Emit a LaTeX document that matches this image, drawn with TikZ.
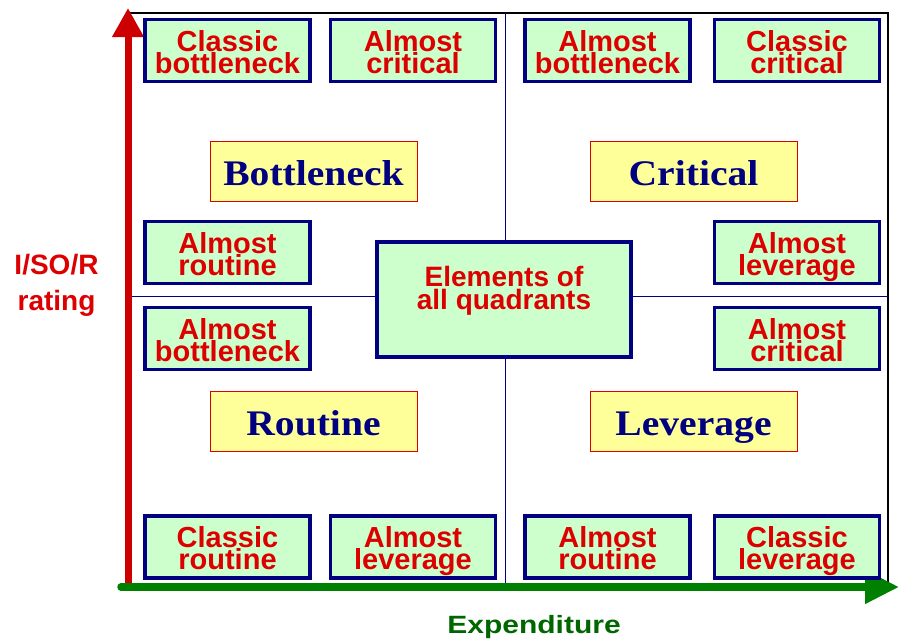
\documentclass[tikz,border=0pt]{standalone}
\usepackage{fontspec}
\setmainfont{Liberation Serif}
\newfontfamily\arialfam{Liberation Sans}
\newfontfamily\serifwide{Liberation Serif}[FakeStretch=1.1]
\newfontfamily\arialwide{Liberation Sans}[FakeStretch=1.2]
\newcommand\celltype{\arialfam\bfseries\fontsize{29}{22}\selectfont\lineskiplimit=-50pt\relax}
\newcommand\centretype{\arialfam\bfseries\fontsize{28}{23}\selectfont\lineskiplimit=-50pt\relax}
\usetikzlibrary{arrows.meta}
\definecolor{boxred}{HTML}{DD0000}
\definecolor{arrowred}{HTML}{CC0000}
\definecolor{boxnavy}{HTML}{000080}
\definecolor{boxgreen}{HTML}{CCFFCC}
\definecolor{boxyellow}{HTML}{FFFF99}
\definecolor{axisgreen}{HTML}{008000}
\definecolor{labelgreen}{HTML}{006600}
\tikzset{
  cellbase/.style={draw=boxnavy, line width=3.5pt, fill=boxgreen, inner sep=0pt,
    minimum width=165pt, minimum height=62pt, align=center, text=boxred},
  cell/.style={cellbase, font=\celltype, text height=51pt, text depth=6pt},
  centrebox/.style={cellbase, font=\centretype,
    execute at begin node={\rule{0pt}{23pt}},
    execute at end node={\rule[-23pt]{0pt}{0pt}}},
  quad/.style={draw=boxred, line width=0.9pt, fill=boxyellow, inner sep=0pt,
    minimum width=207pt, minimum height=60pt, text=boxnavy,
    text height=36pt, text depth=8pt,
    font=\serifwide\bfseries\fontsize{36}{40}\selectfont},
  divider/.style={draw=boxnavy, line width=0.8pt},
}
\begin{document}
\begin{tikzpicture}[x=1pt, y=-1pt]
\useasboundingbox (0,0) rectangle (900,640);

% frame corners and quadrant dividers
\coordinate (tl) at (128,13);
\coordinate (tr) at (888,13);
\coordinate (br) at (888,587);
\coordinate (vtop) at (505,13);
\coordinate (vbot) at (505,587);
\coordinate (hleft) at (128,296);
\coordinate (hright) at (888,296);
\draw[line width=1.4pt] (tl) -- (tr) -- (br);
\draw[divider] (vtop) -- (vbot);
\draw[divider] (hleft) -- (hright);

% axes
\coordinate (ybot) at (128,591);
\coordinate (ytop) at (128,8);
\coordinate (xleft) at (121,587);
\coordinate (xright) at (899,587);
\draw[arrowred, line width=7pt, -{Triangle[width=30pt,length=29pt]}] (ybot) -- (ytop);
\draw[axisgreen, line width=7.5pt, line cap=round, -{Triangle[width=32pt,length=34pt]}] (xleft) -- (xright);

\node[align=center, text=boxred, font=\arialfam\bfseries\fontsize{28}{36}\selectfont]
  (ylab) at (56.5,285.5) {I/SO/R\\rating};
\node[anchor=base, inner sep=0pt, text=labelgreen, font=\arialwide\bfseries\fontsize{25}{28}\selectfont]
  (xlab) at (534,633) {Expenditure};

% top row
\node[cell] (c1) at (227.5,50.5) {Classic\\bottleneck};
\node[cell] (c2) at (413,50.5) {Almost\\critical};
\node[cell] (c3) at (607.5,50.5) {Almost\\bottleneck};
\node[cell] (c4) at (797,50.5) {Classic\\critical};

% middle rows
\node[cell] (m1) at (227.5,252.5) {Almost\\routine};
\node[cell] (m2) at (797,252.5) {Almost\\leverage};
\node[cell] (m3) at (227.5,338.5) {Almost\\bottleneck};
\node[cell] (m4) at (797,338.5) {Almost\\critical};

% bottom row
\node[cell] (b1) at (227.5,547) {Classic\\routine};
\node[cell] (b2) at (413,547) {Almost\\leverage};
\node[cell] (b3) at (607.5,547) {Almost\\routine};
\node[cell] (b4) at (797,547) {Classic\\leverage};

% centre
\node[centrebox, minimum width=254pt, minimum height=115pt] (mid) at (504,299.5) {Elements of\\all quadrants};

% quadrant names
\node[quad] (qb) at (313.5,171.5) {Bottleneck};
\node[quad] (qc) at (693.5,171) {Critical};
\node[quad] (qr) at (313.5,421.5) {Routine};
\node[quad] (ql) at (693.5,421) {Leverage};
\end{tikzpicture}
\end{document}
